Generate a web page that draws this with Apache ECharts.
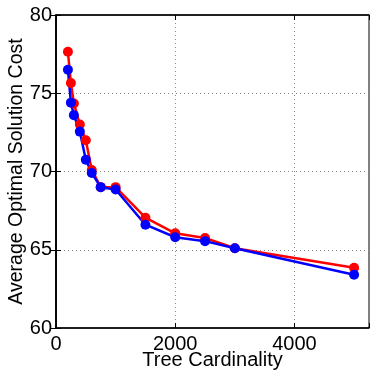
<!DOCTYPE html>
<html>
<head>
<meta charset="utf-8">
<script src="https://cdn.jsdelivr.net/npm/echarts@6/dist/echarts.min.js"></script>
<style>
html,body{margin:0;padding:0;background:#fff;}
#c{width:370px;height:372px;}
</style>
</head>
<body>
<div id="c"></div>
<script>
var xValues = [200, 250, 300, 400, 500, 600, 750, 1000, 1500, 2000, 2500, 3000, 5000];
var redValues = [77.65, 75.65, 74.35, 73.0, 72.0, 70.1, 69.0, 69.0, 67.05, 66.05, 65.75, 65.1, 63.85];
var blueValues = [76.5, 74.4, 73.6, 72.55, 70.75, 69.9, 69.0, 68.85, 66.6, 65.8, 65.55, 65.1, 63.4];
var xTickLabels = ['0', '2000', '4000'];
var yTickLabels = ['60', '65', '70', '75', '80'];

function pairs(xs, ys) { return xs.map(function (x, i) { return [x, ys[i]]; }); }

var FONT = 'Liberation Sans';
var chart = echarts.init(document.getElementById('c'), null, {renderer: 'canvas'});
var gridLine = {show: true, lineStyle: {color: '#888', type: [1, 3], width: 1}};
var tick = {show: true, inside: true, length: 5, lineStyle: {color: '#000', width: 1}};
chart.setOption({
  animation: false,
  backgroundColor: '#fff',
  grid: {left: 56, top: 15, right: 1, bottom: 44, show: true, borderColor: '#000', borderWidth: 1,
    containLabel: false, outerBoundsMode: 'none'},
  xAxis: [{
    type: 'value', min: 0, max: 5250, interval: 2000, position: 'bottom',
    name: 'Tree Cardinality', nameLocation: 'middle', nameGap: 22, nameMoveOverlap: false,
    nameTextStyle: {fontFamily: FONT, fontSize: 20, color: '#000'},
    axisLine: {show: true, lineStyle: {color: '#000', width: 1.5}},
    axisTick: tick,
    axisLabel: {fontFamily: FONT, fontSize: 20, color: '#000', margin: 6,
      formatter: function (v) { var i = xTickLabels.indexOf(String(v)); return i >= 0 ? xTickLabels[i] : ''; }},
    splitLine: gridLine
  }, {
    type: 'value', min: 0, max: 5250, interval: 2000, position: 'top',
    axisLine: {show: true, lineStyle: {color: '#000', width: 1.5}},
    axisTick: tick, axisLabel: {show: false}, splitLine: {show: false}
  }],
  yAxis: [{
    type: 'value', min: 60, max: 80, interval: 5, position: 'left',
    name: 'Average Optimal Solution Cost', nameLocation: 'middle', nameGap: 29, nameMoveOverlap: false,
    nameTextStyle: {fontFamily: FONT, fontSize: 19.5, color: '#000'},
    axisLine: {show: true, lineStyle: {color: '#000', width: 1.5}},
    axisTick: tick,
    axisLabel: {fontFamily: FONT, fontSize: 20, color: '#000', margin: 4,
      formatter: function (v) { var i = yTickLabels.indexOf(String(v)); return i >= 0 ? yTickLabels[i] : ''; }},
    splitLine: gridLine
  }, {
    type: 'value', min: 60, max: 80, interval: 5, position: 'right',
    axisLine: {show: true, lineStyle: {color: '#000', width: 1.5}},
    axisTick: tick, axisLabel: {show: false}, splitLine: {show: false}
  }],
  series: [{
    type: 'line', xAxisIndex: 0, yAxisIndex: 0,
    data: pairs(xValues, redValues),
    symbol: 'circle', symbolSize: 10,
    lineStyle: {color: '#ff0000', width: 2.5},
    itemStyle: {color: '#ff0000'}
  }, {
    type: 'line', xAxisIndex: 0, yAxisIndex: 0,
    data: pairs(xValues, blueValues),
    symbol: 'circle', symbolSize: 10,
    lineStyle: {color: '#0000ff', width: 2.5},
    itemStyle: {color: '#0000ff'}
  }]
});
</script>
</body>
</html>
